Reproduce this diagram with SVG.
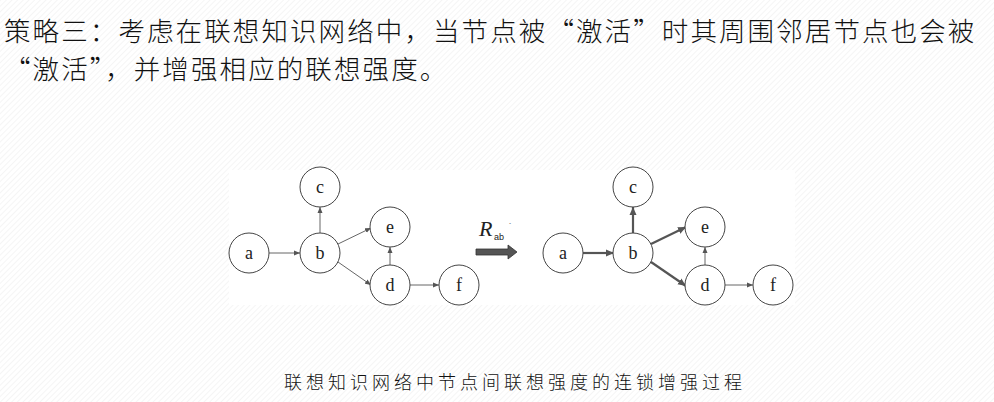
<svg xmlns="http://www.w3.org/2000/svg" width="994" height="402" viewBox="0 0 994 402">
<defs>
<pattern id="h" width="4" height="4" patternUnits="userSpaceOnUse" patternTransform="rotate(45)"><rect width="4" height="4" fill="#fff"/><line x1="0" y1="0" x2="0" y2="4" stroke="#ececec" stroke-width="1"/></pattern>
<marker id="m" markerWidth="6" markerHeight="6" refX="6" refY="3" orient="auto" markerUnits="userSpaceOnUse"><path d="M0,0.5 L6,3 L0,5.5z" fill="#555"/></marker>
<marker id="m2" markerWidth="8" markerHeight="8" refX="8" refY="4" orient="auto" markerUnits="userSpaceOnUse"><path d="M0,0.5 L8,4 L0,7.5z" fill="#555"/></marker>
</defs>
<style>
.n{fill:#fff;stroke:#444;stroke-width:1}
.t{font-family:"Liberation Serif",serif;font-size:18px;text-anchor:middle;fill:#222}
.e{stroke:#666;stroke-width:1;fill:none;marker-end:url(#m)}
.s{stroke:#555;stroke-width:2.2;fill:none;marker-end:url(#m2)}
.h{font-family:"Noto Sans CJK SC",sans-serif;font-size:26.5px;font-weight:300;letter-spacing:2.1px;fill:#111}
</style>
<rect width="994" height="402" fill="url(#h)"/>
<rect x="229" y="170" width="566" height="135" fill="#fff"/>
<text class="h" x="4" y="41">策略三：考虑在联想知识网络中，当节点被“激活”时其周围邻居节点也会被</text>
<text class="h" x="4" y="79">“激活”，并增强相应的联想强度。</text>
<g id="connectors">
<line class="e" x1="269" y1="253" x2="300" y2="253"/>
<line class="e" x1="320" y1="233" x2="320" y2="207"/>
<line class="e" x1="338" y1="244" x2="371" y2="228"/>
<line class="e" x1="338" y1="262" x2="371" y2="285"/>
<line class="e" x1="390" y1="265" x2="390" y2="247"/>
<line class="e" x1="410" y1="285" x2="439" y2="285"/>
<line class="s" x1="583" y1="253" x2="614" y2="253"/>
<line class="s" x1="633" y1="233" x2="633" y2="207"/>
<line class="s" x1="651" y1="244" x2="686" y2="227"/>
<line class="s" x1="651" y1="262" x2="686" y2="286"/>
<line class="e" x1="705" y1="265" x2="705" y2="247"/>
<line class="e" x1="725" y1="285" x2="753" y2="285"/>
</g>
<g id="a1"><ellipse class="n" cx="249" cy="253" rx="20" ry="20"/><text class="t" x="249" y="259">a</text></g>
<g id="b1"><ellipse class="n" cx="320" cy="253" rx="20" ry="20"/><text class="t" x="320" y="259">b</text></g>
<g id="c1"><ellipse class="n" cx="320" cy="187" rx="20" ry="20"/><text class="t" x="320" y="193">c</text></g>
<g id="e1"><ellipse class="n" cx="390" cy="227" rx="20" ry="20"/><text class="t" x="390" y="233">e</text></g>
<g id="d1"><ellipse class="n" cx="390" cy="285" rx="20" ry="20"/><text class="t" x="390" y="291">d</text></g>
<g id="f1"><ellipse class="n" cx="459" cy="285" rx="20" ry="20"/><text class="t" x="459" y="291">f</text></g>
<g id="arrow">
<text x="479" y="236" style="font-family:'Liberation Serif',serif;font-size:22px;font-style:italic;fill:#222">R</text>
<text x="494" y="240" style="font-family:'Liberation Sans',sans-serif;font-size:9px;fill:#222">ab</text>
<text x="509" y="228" style="font-family:'Liberation Sans',sans-serif;font-size:8px;fill:#222">´</text>
<path d="M476,249 H508 V245 L517,252 L508,259 V255 H476z" fill="#555" stroke="#333" stroke-width="0.8"/>
</g>
<g id="a2"><ellipse class="n" cx="563" cy="253" rx="20" ry="20"/><text class="t" x="563" y="259">a</text></g>
<g id="b2"><ellipse class="n" cx="633" cy="253" rx="20" ry="20"/><text class="t" x="633" y="259">b</text></g>
<g id="c2"><ellipse class="n" cx="633" cy="187" rx="20" ry="20"/><text class="t" x="633" y="193">c</text></g>
<g id="e2"><ellipse class="n" cx="705" cy="227" rx="20" ry="20"/><text class="t" x="705" y="233">e</text></g>
<g id="d2"><ellipse class="n" cx="705" cy="285" rx="20" ry="20"/><text class="t" x="705" y="291">d</text></g>
<g id="f2"><ellipse class="n" cx="773" cy="285" rx="20" ry="20"/><text class="t" x="773" y="291">f</text></g>
<text x="515" y="389" text-anchor="middle" style="font-family:'Noto Sans CJK SC',sans-serif;font-size:18px;font-weight:300;letter-spacing:4px;fill:#111">联想知识网络中节点间联想强度的连锁增强过程</text>
</svg>
